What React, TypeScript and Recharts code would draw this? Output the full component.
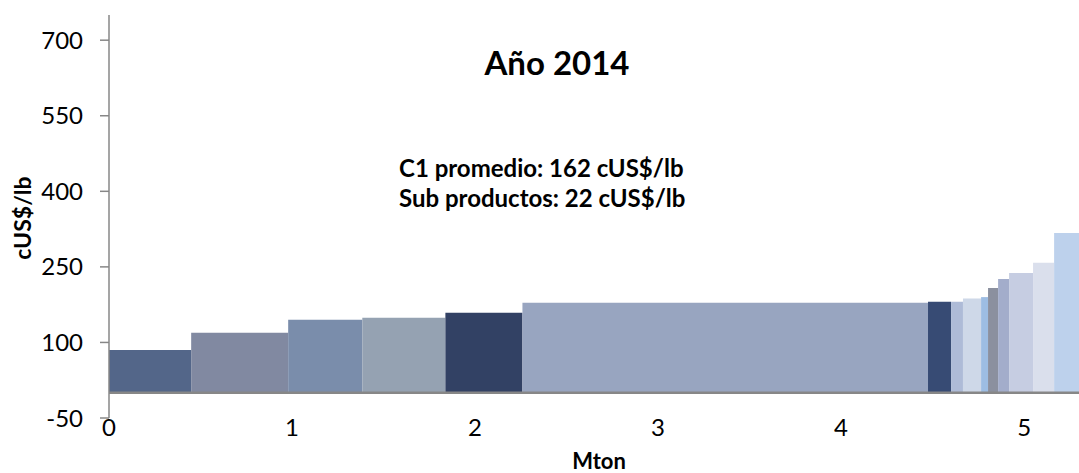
import { ComposedChart, XAxis, YAxis, ReferenceArea, ReferenceLine } from 'recharts';

// widths of each producer block (Mton) and their C1 cost (cUS$/lb)
const widths = [0.449, 0.53, 0.405, 0.454, 0.421, 2.216, 0.126, 0.065, 0.099, 0.038, 0.055, 0.06, 0.131, 0.115, 0.15];
const costs = [85, 119, 145, 149, 159, 179, 181, 181, 187, 190, 208, 226, 238, 258, 317];
const colors = [
  '#536689', '#8189a1', '#7a8dab', '#95a2b2', '#324164', '#98a5c0', '#374b74', '#aebbd7',
  '#ced8e8', '#9dbde3', '#8b909f', '#a3adcb', '#c6cde2', '#dadfec', '#bdd1ec',
];
const xTicks = [0, 1, 2, 3, 4, 5];
const yTicks = [-50, 100, 250, 400, 550, 700];

const title = 'Año 2014';
const note1 = 'C1 promedio: 162 cUS$/lb';
const note2 = 'Sub productos: 22 cUS$/lb';

let acc = 0;
const blocks = widths.map((w, i) => {
  const b = { start: acc, end: acc + w, cost: costs[i], color: colors[i] };
  acc += w;
  return b;
});

const FONT = 'Lato, "Open Sans", sans-serif';
const AXIS = '#878787';

export default function App() {
  return (
    <div style={{ position: 'absolute', left: 0, top: 0, width: 1079, height: 473, background: '#fff', overflow: 'hidden' }}>
      <ComposedChart width={1079} height={473} data={blocks} margin={{ top: 15, right: 0, bottom: 15, left: 0 }}>
        <XAxis
          type="number"
          dataKey="start"
          domain={[0, 5.3]}
          ticks={xTicks}
          allowDataOverflow
          axisLine={false}
          tickLine={false}
          tickSize={0}
          tickMargin={1}
          height={40}
          tick={{ fill: '#000', fontSize: 24, fontFamily: FONT }}
        />
        <YAxis
          type="number"
          domain={[-50, 750]}
          ticks={yTicks}
          allowDataOverflow
          width={109}
          axisLine={{ stroke: AXIS, strokeWidth: 1.5 }}
          tickLine={{ stroke: AXIS, strokeWidth: 1.5 }}
          tickSize={9}
          tickMargin={17}
          tick={{ fill: '#000', fontSize: 24, fontFamily: FONT }}
        />
        {blocks.map((b, i) => (
          <ReferenceArea
            key={i}
            x1={b.start}
            x2={b.end}
            y1={0}
            y2={b.cost}
            fill={b.color}
            fillOpacity={1}
            stroke="none"
            ifOverflow="hidden"
          />
        ))}
        <ReferenceLine y={0} stroke={AXIS} strokeWidth={2.5} ifOverflow="extendDomain" />
      </ComposedChart>
      <svg width={1079} height={473} style={{ position: 'absolute', left: 0, top: 0, pointerEvents: 'none' }}>
        <text x={557} y={75} textAnchor="middle" fontFamily={FONT} fontWeight="bold" fontSize={33} fill="#000">
          {title}
        </text>
        <text x={399} y={177} fontFamily={FONT} fontWeight="bold" fontSize={24} fill="#000">
          {note1}
        </text>
        <text x={399} y={207} fontFamily={FONT} fontWeight="bold" fontSize={24} fill="#000">
          {note2}
        </text>
        <text x={599} y={469} textAnchor="middle" fontFamily={FONT} fontWeight="bold" fontSize={22} fill="#000">
          Mton
        </text>
        <text
          x={31}
          y={218}
          textAnchor="middle"
          transform="rotate(-90 31 218)"
          fontFamily={FONT}
          fontWeight="bold"
          fontSize={23}
          fill="#000"
        >
          cUS$/lb
        </text>
      </svg>
    </div>
  );
}
